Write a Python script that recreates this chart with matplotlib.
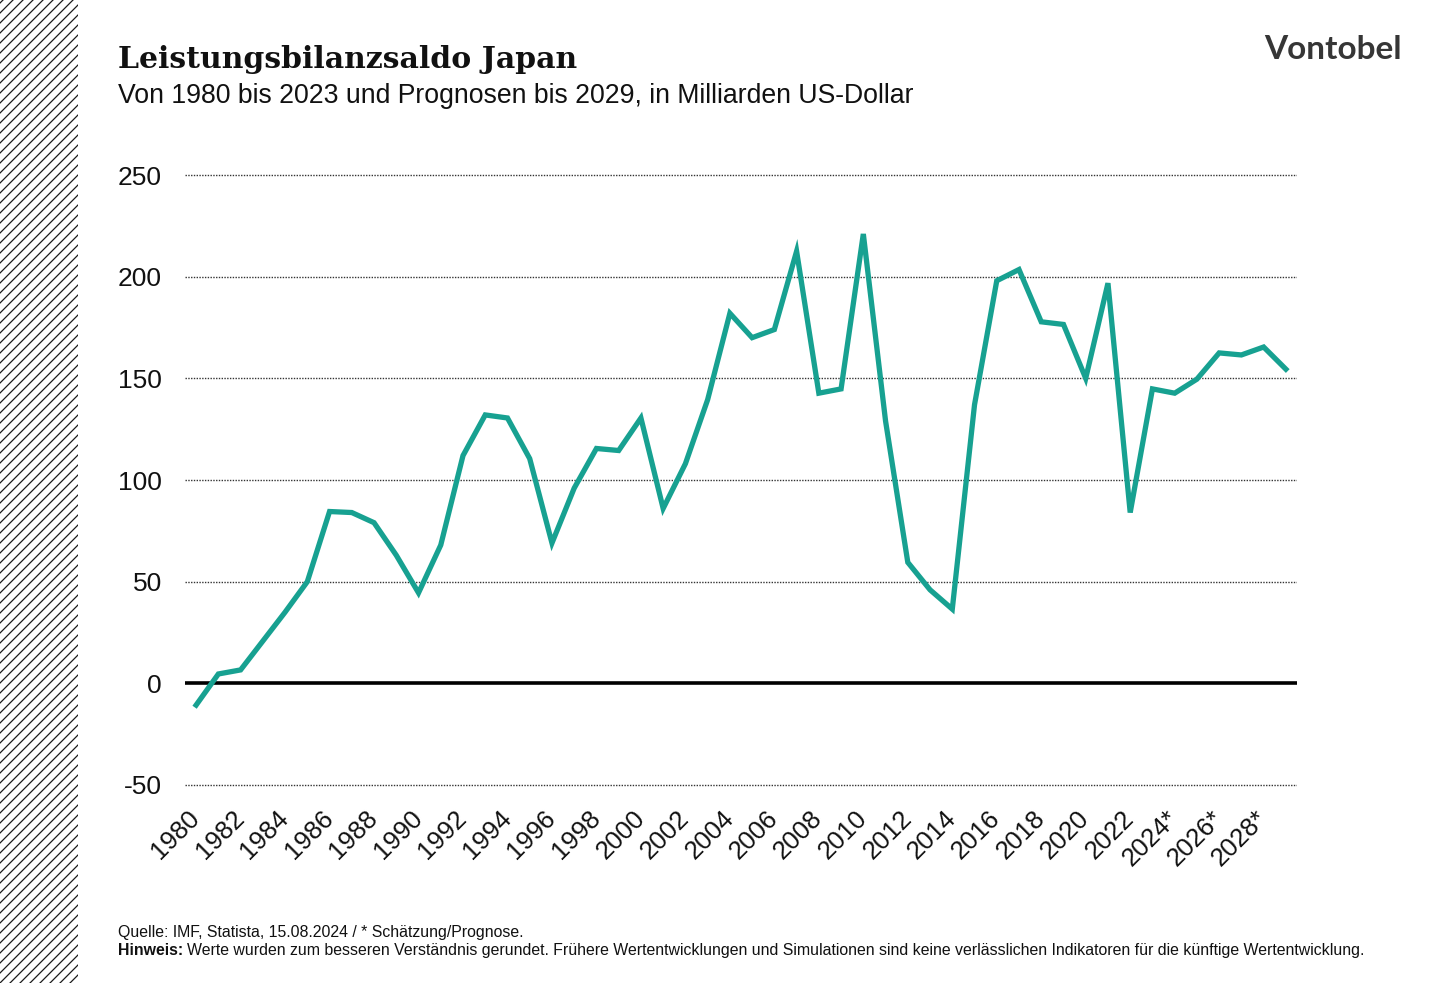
import matplotlib
matplotlib.use("Agg")
import matplotlib.pyplot as plt
import numpy as np

years = list(range(1980, 2030))
values = [-10.7, 4.6, 6.6, 20.8, 35.0, 50.0, 84.5, 84.0, 79.0, 63.0,
          44.5, 68.0, 112.0, 132.0, 130.5, 110.5, 69.0, 96.0, 115.5, 114.5,
          130.5, 86.0, 108.0, 139.5, 182.0, 170.0, 174.0, 212.5, 142.7, 144.8,
          221.0, 129.0, 59.5, 46.0, 36.5, 137.0, 198.0, 203.5, 177.8, 176.5,
          150.0, 196.8, 84.0, 144.8, 142.7, 149.6, 162.5, 161.5, 165.4, 154.5]
tick_years = list(range(1980, 2030, 2))
tick_labels = [str(y) if y < 2024 else f"{y}*" for y in tick_years]
yticks = [-50, 0, 50, 100, 150, 200, 250]

W, H = 1440, 983
fig = plt.figure(figsize=(W / 100, H / 100), dpi=100)
fig.patch.set_facecolor("white")

# hatched strip on the left
hax = fig.add_axes([0, 0, 78 / W, 1])
hax.set_xlim(0, 78)
hax.set_ylim(0, H)
hax.axis("off")
for c in range(-120, H + 10, 10):
    hax.plot([0, 120], [c, c + 120 * 1.0], color="#1a1a1a", lw=0.9)

# main axes: ylim -55..255, x 185..1297 px
px_per = 2.033
top_px = 175 - 5 * px_per
bot_px = 785 + 5 * px_per
ax = fig.add_axes([185 / W, 1 - bot_px / H, (1297 - 185) / W, (bot_px - top_px) / H])
ax.set_xlim(1979.5, 2029.5)
ax.set_ylim(-55, 255)
for s in ax.spines.values():
    s.set_visible(False)

for yv in yticks:
    if yv == 0:
        continue
    ax.axhline(yv, color="#333333", lw=1.0, ls=(0, (1, 1)), zorder=1)
ax.axhline(0, color="black", lw=2.6, zorder=2)

ax.plot(years, values, color="#17A191", lw=3.8, solid_joinstyle="miter", zorder=3)

ax.set_yticks(yticks)
ax.set_yticklabels([str(v) for v in yticks], fontsize=19, family="Liberation Sans", color="#111111")
ax.tick_params(axis="y", length=0, pad=16.5)
ax.set_xticks(tick_years)
ax.set_xticklabels(tick_labels, rotation=45, ha="right", va="center", rotation_mode="anchor",
                   fontsize=18.5, family="Liberation Sans", color="#111111")
ax.tick_params(axis="x", length=0, pad=14)

# titles
fig.text(118 / W, 1 - 68 / H, "Leistungsbilanzsaldo Japan", family="DejaVu Serif",
         fontweight="bold", fontsize=21.5, color="#111111", va="baseline")
fig.text(118 / W, 1 - 103 / H, "Von 1980 bis 2023 und Prognosen bis 2029, in Milliarden US-Dollar",
         family="Liberation Sans", fontsize=19.2, color="#111111", va="baseline")
fig.text(1402 / W, 1 - 59 / H, "Vontobel", family="Lato", fontweight="bold", fontsize=24,
         color="#363636", ha="right", va="baseline")

# footer
fig.text(118 / W, 1 - 937 / H, "Quelle: IMF, Statista, 15.08.2024 / * Schätzung/Prognose.",
         family="Liberation Sans", fontsize=11.4, color="#111111", va="baseline")
t1 = fig.text(118 / W, 1 - 955 / H, "Hinweis:", family="Liberation Sans", fontweight="bold",
              fontsize=11.4, color="#111111", va="baseline")
fig.canvas.draw()
bb = t1.get_window_extent()
fig.text((bb.x1 + 4) / W, 1 - 955 / H,
         "Werte wurden zum besseren Verständnis gerundet. Frühere Wertentwicklungen und Simulationen sind keine verlässlichen Indikatoren für die künftige Wertentwicklung.",
         family="Liberation Sans", fontsize=11.4, color="#111111", va="baseline")

fig.savefig("out.png", dpi=100, facecolor="white")
